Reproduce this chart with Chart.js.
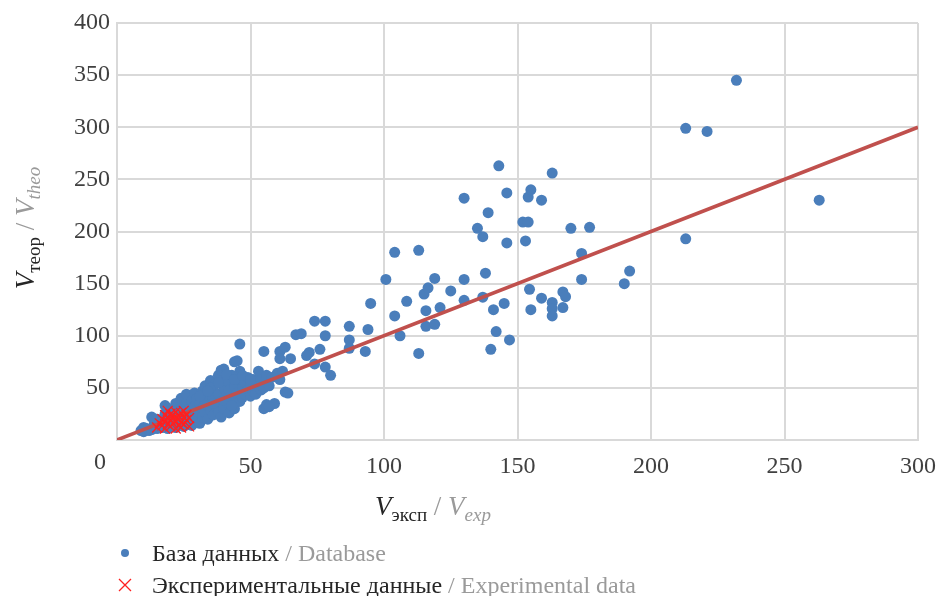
<!DOCTYPE html>
<html>
<head>
<meta charset="utf-8">
<script src="https://cdn.jsdelivr.net/npm/chart.js@4"></script>
<style>
  body { margin: 0; background: #fff; }
  #wrap { width: 937px; height: 596px; position: relative; }
</style>
</head>
<body>
<div id="wrap"><canvas id="chart"></canvas></div>
<script>
// database points (x = V exp, y = V theo)
const dbX = [
  9, 10, 11, 12, 10, 13, 14, 14, 15, 15, 16, 13, 16,
  17, 17, 18, 18, 19, 19, 19, 20, 20, 18, 21, 21, 22, 22, 22, 23, 23, 24, 24, 24,
  25, 25, 26, 26, 26, 27, 27, 28, 28, 28, 29, 29, 30, 30, 30, 31, 31, 32, 32, 32,
  33, 33, 33, 34, 34, 34, 35, 35, 36, 36, 36, 37, 37, 38, 38, 38, 39, 39, 40, 40, 40,
  41, 41, 42, 42, 42, 43, 43, 44, 44, 44, 45, 45, 46, 46, 47, 47, 48, 48, 46, 45,
  49, 49, 50, 50, 51, 51, 52, 52, 53, 53, 54, 54, 55, 55, 56, 55, 56, 57, 58, 59, 60, 61, 61, 61, 62, 63, 64, 63, 65,
  67, 74, 78, 78, 69, 87, 94, 95, 87, 87, 93, 76, 72, 71, 74, 78, 80, 57, 43.5, 39,
  100.7, 104, 104, 106, 108.5, 113, 113, 115, 116.5, 115.7, 115.7, 119, 119, 121, 125, 130, 130, 130,
  135, 137, 137, 138, 139, 140, 141, 142, 143, 145, 146, 146, 147, 152, 153, 154, 154, 155, 154.5,
  155, 159, 159, 163, 163, 163, 163, 167, 168, 167, 170, 174, 174, 177,
  190, 192, 213, 213, 221, 232, 263,
  35, 38, 41, 44, 47, 50, 36, 40, 43, 31, 34
];
const dbY = [
  9, 8, 11, 9, 12, 10, 12, 16, 11, 20, 14, 22, 18,
  12, 20, 15, 25, 11, 18, 30, 22, 14, 33, 17, 27, 12, 20, 35, 24, 15, 30, 40, 19,
  13, 25, 35, 22, 44, 17, 29, 38, 24, 14, 32, 45, 20, 27, 40, 35, 16, 47, 30, 22,
  38, 26, 52, 20, 33, 44, 29, 57, 40, 24, 48, 33, 54, 27, 44, 62, 37, 22, 50, 30, 68,
  42, 57, 35, 26, 48, 62, 40, 52, 30, 75, 45, 58, 37, 66, 50, 41, 55, 44, 92, 76,
  48, 60, 42, 53, 47, 58, 50, 44, 55, 66, 48, 58, 50, 85, 62, 30, 34, 52, 60, 35, 64, 85, 78, 58, 66, 46, 45, 89, 78,
  101, 114, 114, 100, 102, 109, 106, 131, 96, 88, 85, 87, 84, 81, 73, 70, 62, 32, 61, 67,
  154, 180, 119, 100, 133, 182, 83, 140, 146, 124, 109, 155, 111, 127, 143, 232, 154, 134,
  203, 195, 137, 160, 218, 87, 125, 104, 263, 131, 189, 237, 96, 209, 191, 233, 209, 240, 144.5,
  125, 230, 136, 256, 132, 126, 119, 142, 137.5, 127, 203, 179, 154, 204,
  150, 162, 299, 193, 296, 345, 230,
  50, 55, 63, 58, 62, 58, 35, 38, 33, 42, 47
];
// experimental points
const expX = [15, 16, 17, 17, 18, 18, 19, 19, 20, 20, 20, 21, 21, 22, 22, 22, 23, 23, 23, 24, 24, 24, 25, 25, 25, 26, 26, 27, 27, 21, 19, 18];
const expY = [12, 16, 14, 20, 11, 18, 22, 15, 13, 25, 19, 21, 16, 27, 11, 18, 23, 14, 20, 26, 17, 12, 22, 15, 28, 19, 24, 13, 21, 24, 28, 24];
// reference line y = x
const lineX = [0, 300];
const lineY = [0, 300];

const toPoints = (xs, ys) => xs.map((x, i) => ({ x: x, y: ys[i] }));

const gridColor = "#d9d9d9";
const serif = "'Liberation Serif', 'DejaVu Serif', serif";
Chart.defaults.font.family = serif;
Chart.defaults.font.size = 24;
Chart.defaults.color = "#404040";

/**
 * draws a label made of parts: [text, color, italic, subscript]
 */
const drawParts = (ctx, parts, x, y, align, big, small) => {
  const fontOf = (p) => (p[2] ? "italic " : "") + (p[3] ? small : big) + "px " + serif;
  let total = 0;
  parts.forEach((p) => { ctx.font = fontOf(p); total += ctx.measureText(p[0]).width; });
  let cx = align === "center" ? x - total / 2 : x;
  parts.forEach((p) => {
    ctx.font = fontOf(p);
    ctx.fillStyle = p[1];
    ctx.textBaseline = "alphabetic";
    ctx.textAlign = "left";
    ctx.fillText(p[0], cx, y + (p[3] ? 6 : 0));
    cx += ctx.measureText(p[0]).width;
  });
};

const dark = "#262626";
const grey = "#9a9a9a";

const extrasPlugin = {
  id: "extras",
  afterDraw(chart) {
    const ctx = chart.ctx;
    const xs = chart.scales.x;
    const ys = chart.scales.y;
    ctx.save();
    // shared zero label
    ctx.font = "24px " + serif;
    ctx.fillStyle = "#404040";
    ctx.textAlign = "center";
    ctx.textBaseline = "middle";
    ctx.fillText("0", xs.left - 17, ys.bottom + 23);

    // x axis title
    drawParts(ctx, [
      ["V", dark, true, false], ["эксп", dark, false, true], [" / ", grey, false, false],
      ["V", grey, true, false], ["exp", grey, true, true]
    ], 433, 515, "center", 27, 19);

    // y axis title (rotated)
    ctx.save();
    ctx.translate(34, 228);
    ctx.rotate(-Math.PI / 2);
    drawParts(ctx, [
      ["V", dark, true, false], ["теор", dark, false, true], [" / ", grey, false, false],
      ["V", grey, true, false], ["theo", grey, true, true]
    ], 0, 0, "center", 27, 19);
    ctx.restore();

    // legend
    ctx.fillStyle = "#4a7ebb";
    ctx.beginPath();
    ctx.arc(125, 553, 4, 0, Math.PI * 2);
    ctx.fill();
    ctx.strokeStyle = "#ff2020";
    ctx.lineWidth = 1.3;
    ctx.beginPath();
    ctx.moveTo(119, 579); ctx.lineTo(131, 591);
    ctx.moveTo(131, 579); ctx.lineTo(119, 591);
    ctx.stroke();
    drawParts(ctx, [["База данных", dark, false, false], [" / Database", grey, false, false]], 152, 561, "left", 24, 16);
    drawParts(ctx, [["Экспериментальные данные", dark, false, false], [" / Experimental data", grey, false, false]], 152, 593, "left", 24, 16);
    ctx.restore();
  }
};

new Chart(document.getElementById("chart"), {
  type: "scatter",
  data: {
    datasets: [
      {
        label: "Экспериментальные данные",
        data: toPoints(expX, expY),
        pointStyle: "crossRot",
        pointRadius: 7,
        borderColor: "#ff2020",
        borderWidth: 1.3,
        order: 0
      },
      {
        type: "line",
        label: "y = x",
        data: toPoints(lineX, lineY),
        borderColor: "#c0504d",
        borderWidth: 3.5,
        pointRadius: 0,
        order: 1
      },
      {
        label: "База данных",
        data: toPoints(dbX, dbY),
        pointRadius: 5.5,
        backgroundColor: "#4a7ebb",
        borderWidth: 0,
        order: 2
      }
    ]
  },
  options: {
    responsive: true,
    maintainAspectRatio: false,
    animation: false,
    layout: { padding: { top: 23, right: 19, left: 0, bottom: 0 } },
    plugins: { legend: { display: false }, tooltip: { enabled: false } },
    scales: {
      x: {
        type: "linear",
        min: 0,
        max: 300,
        ticks: { stepSize: 50, padding: 12, callback: (v) => (v === 0 ? "" : v) },
        grid: { color: gridColor, lineWidth: 2, drawTicks: false },
        border: { color: gridColor, width: 2 },
        afterFit: (s) => { s.height = 156; s.paddingRight = 0; s.paddingLeft = 0; }
      },
      y: {
        min: 0,
        max: 400,
        ticks: { stepSize: 50, padding: 7, callback: (v) => (v === 0 ? "" : v) },
        grid: { color: gridColor, lineWidth: 2, drawTicks: false },
        border: { color: gridColor, width: 2 },
        afterFit: (s) => { s.width = 117; s.paddingTop = 0; s.paddingBottom = 0; }
      }
    }
  },
  plugins: [extrasPlugin]
});
</script>
</body>
</html>
